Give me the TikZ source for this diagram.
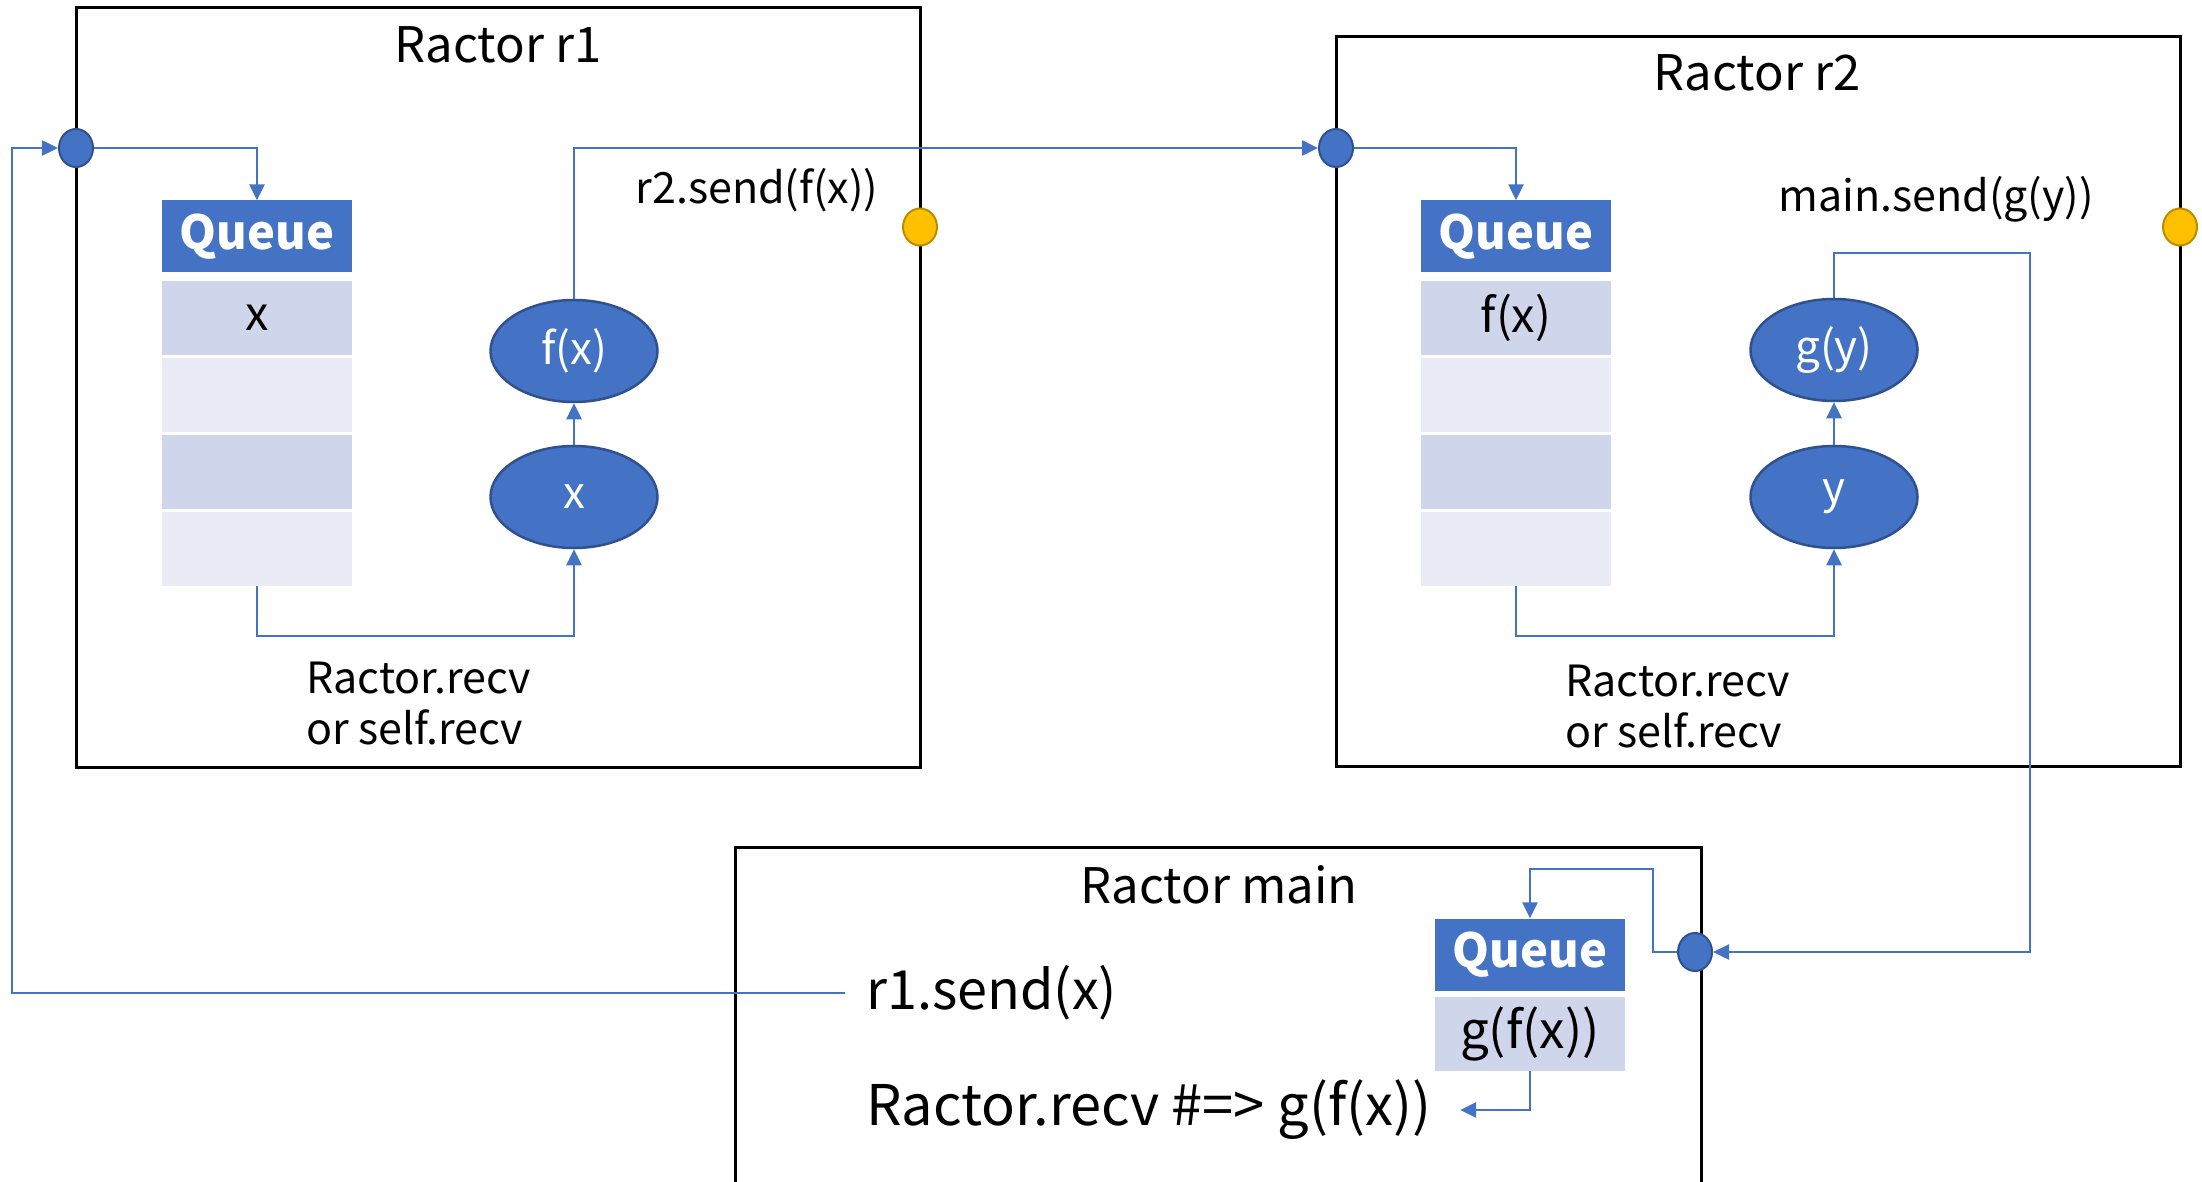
\documentclass[tikz,border=0pt]{standalone}
\usepackage{fontspec}
\setmainfont{Noto Sans CJK JP}
\usetikzlibrary{arrows.meta,shapes.geometric,calc}
\definecolor{ofblue}{HTML}{4472C4}
\definecolor{ofdark}{HTML}{2F528F}
\definecolor{qdark}{HTML}{CFD5EA}
\definecolor{qlight}{HTML}{E9EBF5}
\definecolor{ofyellow}{HTML}{FFC000}
\definecolor{ydark}{HTML}{BC8C00}
\begin{document}
\begin{tikzpicture}[x=1pt,y=-1pt,
  frame/.style={draw=black,line width=3pt,rectangle,inner sep=0pt},
  title/.style={font=\fontsize{49}{60}\selectfont,inner sep=0pt},
  lbl/.style={font=\fontsize{43}{51}\selectfont,inner sep=0pt},
  port/.style={ellipse,draw=ofdark,fill=ofblue,line width=2pt,minimum width=34pt,minimum height=38pt,inner sep=0pt},
  yport/.style={ellipse,draw=ydark,fill=ofyellow,line width=2pt,minimum width=34pt,minimum height=37pt,inner sep=0pt},
  qhead/.style={rectangle,fill=ofblue,text=white,font=\fontsize{47}{56}\selectfont\bfseries,minimum width=190pt,minimum height=72pt,inner sep=0pt},
  qrowd/.style={rectangle,fill=qdark,font=\fontsize{47}{56}\selectfont,minimum width=190pt,minimum height=74pt,inner sep=0pt},
  qrowl/.style={rectangle,fill=qlight,font=\fontsize{47}{56}\selectfont,minimum width=190pt,minimum height=74pt,inner sep=0pt},
  val/.style={ellipse,draw=ofdark,fill=ofblue,text=white,line width=2.5pt,minimum width=167pt,minimum height=102pt,inner sep=0pt,font=\fontsize{44}{52}\selectfont},
  conn/.style={draw=ofblue,line width=2.5pt},
  arr/.style={conn,-{Triangle[length=16pt,width=15pt]}}
]
\useasboundingbox (0,0) rectangle (2202,1182);
\fill[white] (0,0) rectangle (2202,1182);

% ---------- Ractor r1 ----------
\node[frame,minimum width=844pt,minimum height=759pt] (r1box) at (498,387.5) {};
\node[title] (r1title) at (498,45) {Ractor r1};
\node[qhead] (r1qh) at (257,236.5) {Queue};
\node[qrowd] (r1r1) at (257,318) {x};
\node[qrowl] (r1r2) at (257,395) {};
\node[qrowd] (r1r3) at (257,472) {};
\node[qrowl] (r1r4) at (257,549) {};
\node[val] (r1fx) at (574,351) {f(x)};
\node[val] (r1x) at (574,497) {x};
\node[lbl] (r1send) at (757,190) {r2.send(f(x))};
\node[lbl,align=left,anchor=west] (r1recv) at (306,704) {Ractor.recv\\or self.recv};

% ---------- Ractor r2 ----------
\node[frame,minimum width=844pt,minimum height=729pt] (r2box) at (1758,401.5) {};
\node[title] (r2title) at (1757,73) {Ractor r2};
\node[qhead] (r2qh) at (1516,236.5) {Queue};
\node[qrowd] (r2r1) at (1516,318) {f(x)};
\node[qrowl] (r2r2) at (1516,395) {};
\node[qrowd] (r2r3) at (1516,472) {};
\node[qrowl] (r2r4) at (1516,549) {};
\node[val] (r2gy) at (1834,350) {g(y)};
\node[val] (r2y) at (1834,497) {y};
\node[lbl] (r2send) at (1936,199) {main.send(g(y))};
\node[lbl,align=left,anchor=west] (r2recv) at (1565,707) {Ractor.recv\\or self.recv};

% ---------- Ractor main ----------
\draw[black,line width=3pt] (735,1190) -- (735,847) -- (1701,847) -- (1701,1190);
\node[title] (mtitle) at (1219,885) {Ractor main};
\node[qhead] (mqh) at (1530,954.5) {Queue};
\node[qrowd,font=\fontsize{51}{60}\selectfont] (mr1) at (1530,1034) {g(f(x))};
\node[font=\fontsize{54}{64}\selectfont,inner ysep=0pt,inner xsep=21pt,anchor=west] (msend) at (845,993) {r1.send(x)};
\node[font=\fontsize{56}{66}\selectfont,inner ysep=0pt,inner xsep=29pt,anchor=west] (mrecv) at (837,1110) {Ractor.recv \#=> g(f(x))};

% ---------- ports ----------
\node[port] (r1port) at (76,148) {};
\node[yport] (r1y) at (920,227) {};
\node[port] (r2port) at (1336,148) {};
\node[yport] (r2yp) at (2180,227) {};
\node[port] (mport) at (1695,952) {};

% ---------- coordinates ----------
\coordinate (loopc) at (12,600);
\coordinate (gyturn) at (2030,253);
\coordinate (mturn) at (1653,869);

% ---------- connectors ----------
\draw[arr] (r1port.east) -| (r1qh.north);
\draw[arr] (r1r4.south) -- ++(0,50) -| (r1x.south);
\draw[arr] (r1x.north) -- (r1fx.south);
\draw[arr] (r1fx.north) |- (r2port.west);

\draw[arr] (r2port.east) -| (r2qh.north);
\draw[arr] (r2r4.south) -- ++(0,50) -| (r2y.south);
\draw[arr] (r2y.north) -- (r2gy.south);
\draw[arr] (r2gy.north) |- (gyturn) |- (mport.east);

\draw[arr] (mport.west) -| (mturn) -| (mqh.north);
\draw[arr] (mr1.south) |- (mrecv.east);
\draw[arr] (msend.west) -| (loopc) |- (r1port.west);
\end{tikzpicture}
\end{document}
